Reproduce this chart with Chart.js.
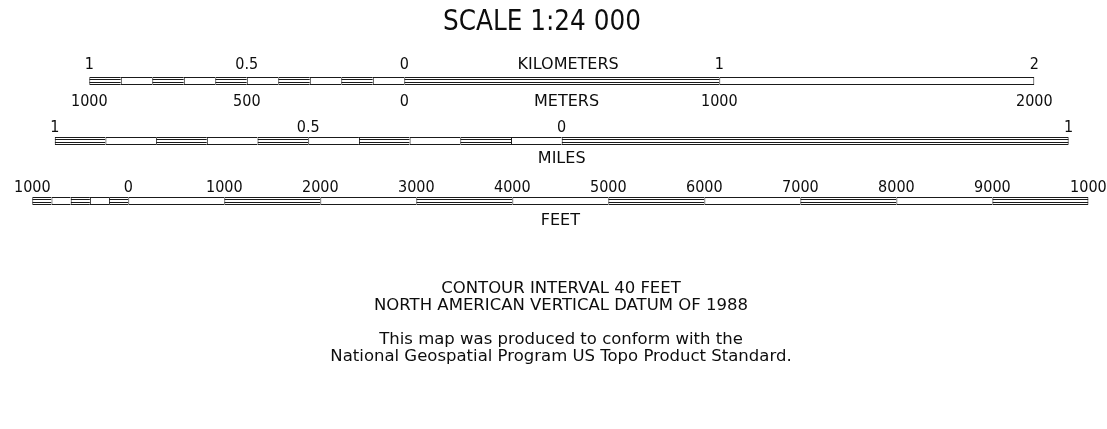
<!DOCTYPE html>
<html>
<head>
<meta charset="utf-8">
<script src="https://cdn.jsdelivr.net/npm/chart.js@4/dist/chart.umd.min.js"></script>
<style>
  html, body { margin: 0; padding: 0; background: #fff; }
  #wrap { width: 1107px; height: 429px; position: relative; }
</style>
</head>
<body>
<div id="wrap"><canvas id="scaleChart"></canvas></div>
<script>
// segment boundaries of each bar, in the bar's own unit (left of zero is negative)
const kmBreaks = [-1, -0.9, -0.8, -0.7, -0.6, -0.5, -0.4, -0.3, -0.2, -0.1, 0, 1, 2];
const mileBreaks = [-1, -0.9, -0.8, -0.7, -0.6, -0.5, -0.4, -0.3, -0.2, -0.1, 0, 1];
const feetBreaks = [-1000, -800, -600, -400, -200, 0, 1000, 2000, 3000, 4000, 5000, 6000, 7000, 8000, 9000, 10000];

// tick labels
const kmTicks = [-1, -0.5, 0, 1, 2];
const kmTickLabels = ['1', '0.5', '0', '1', '2'];
const meterTickLabels = ['1000', '500', '0', '1000', '2000'];
const mileTicks = [-1, -0.5, 0, 1];
const mileTickLabels = ['1', '0.5', '0', '1'];
const feetTicks = [-1000, 0, 1000, 2000, 3000, 4000, 5000, 6000, 7000, 8000, 9000, 10000];
const feetTickLabels = ['1000', '0', '1000', '2000', '3000', '4000', '5000', '6000', '7000', '8000', '9000', '1000'];

const titleText = 'SCALE 1:24 000';
const footerLines = [
  'CONTOUR INTERVAL 40 FEET',
  'NORTH AMERICAN VERTICAL DATUM OF 1988',
  '',
  'This map was produced to conform with the',
  'National Geospatial Program US Topo Product Standard.'
];

// layout
const W = 1107, H = 429;
const kmZeroPx = 404.3;
const pxPerKm = 315;
const pxPerMile = pxPerKm * 1.609344;
const pxPerFoot = pxPerKm * 0.0003048;
const mileZeroPx = 561.7;
const feetZeroPx = 128.3;
const rows = { km: 81, mile: 141, feet: 201 };
const LINE = '#1a1a1a';
const TEXT = '#0d0d0d';
const NUM_FONT = '"DejaVu Sans Condensed", "DejaVu Sans", sans-serif';
const WORD_FONT = '"DejaVu Sans", sans-serif';

function segments(breaks, row, evenOnly) {
  const out = [];
  for (let i = 0; i < breaks.length - 1; i++) {
    if (evenOnly && i % 2) continue;
    out.push({ x: [breaks[i], breaks[i + 1]], y: row });
  }
  return out;
}

function barRow(axisId, breaks, row) {
  const last = breaks.length - 2;
  const outer = {
    data: segments(breaks, row, false),
    xAxisID: axisId,
    yAxisID: 'y',
    barThickness: 8,
    backgroundColor: '#fff',
    borderColor: LINE,
    borderWidth: (ctx) => ({ top: 1, bottom: 1, left: 1, right: ctx.dataIndex === last ? 1 : 0 }),
    borderSkipped: false,
    inflateAmount: 0,
    grouped: false,
    order: 2
  };
  // the thin double line inside every other segment
  const inner = {
    data: segments(breaks, row, true),
    xAxisID: axisId,
    yAxisID: 'y',
    barThickness: 4,
    backgroundColor: 'rgba(0,0,0,0)',
    borderColor: LINE,
    borderWidth: { top: 1, bottom: 1, left: 0, right: 0 },
    borderSkipped: false,
    inflateAmount: 0,
    grouped: false,
    order: 1
  };
  return [outer, inner];
}

function axis(zeroPx, pxPerUnit) {
  return {
    type: 'linear',
    axis: 'x',
    display: false,
    offset: false,
    min: -zeroPx / pxPerUnit,
    max: (W - zeroPx) / pxPerUnit
  };
}

const tickRows = [
  { axis: 'xKm', values: kmTicks, labels: kmTickLabels, baseline: 69 },
  { axis: 'xKm', values: kmTicks, labels: meterTickLabels, baseline: 106 },
  { axis: 'xMi', values: mileTicks, labels: mileTickLabels, baseline: 132 },
  { axis: 'xFt', values: feetTicks, labels: feetTickLabels, baseline: 192 }
];
const unitRows = [
  { axis: 'xKm', value: 0.52, text: 'KILOMETERS', baseline: 69 },
  { axis: 'xKm', value: 0.515, text: 'METERS', baseline: 106 },
  { axis: 'xMi', value: 0, text: 'MILES', baseline: 163 },
  { axis: 'xFt', value: 4500, text: 'FEET', baseline: 225 }
];

const textPlugin = {
  id: 'scaleText',
  afterDraw(chart) {
    const ctx = chart.ctx;
    ctx.save();
    ctx.fillStyle = TEXT;
    ctx.textAlign = 'center';
    ctx.textBaseline = 'alphabetic';
    ctx.font = '27.5px ' + NUM_FONT;
    ctx.fillText(titleText, 542, 30);

    ctx.font = '16px ' + NUM_FONT;
    tickRows.forEach((r) => {
      const s = chart.scales[r.axis];
      r.values.forEach((v, i) => ctx.fillText(r.labels[i], s.getPixelForValue(v), r.baseline));
    });
    ctx.font = '16px ' + WORD_FONT;
    unitRows.forEach((u) => {
      ctx.fillText(u.text, chart.scales[u.axis].getPixelForValue(u.value), u.baseline);
    });

    ctx.font = '16.5px ' + WORD_FONT;
    let y = 293;
    footerLines.forEach((line) => {
      if (line) ctx.fillText(line, 561, y);
      y += 17;
    });
    ctx.restore();
  }
};

new Chart(document.getElementById('scaleChart'), {
  type: 'bar',
  data: {
    datasets: [
      ...barRow('xKm', kmBreaks, rows.km),
      ...barRow('xMi', mileBreaks, rows.mile),
      ...barRow('xFt', feetBreaks, rows.feet)
    ]
  },
  options: {
    indexAxis: 'y',
    responsive: true,
    maintainAspectRatio: false,
    animation: false,
    events: [],
    layout: { padding: 0 },
    scales: {
      xKm: axis(kmZeroPx, pxPerKm),
      xMi: axis(mileZeroPx, pxPerMile),
      xFt: axis(feetZeroPx, pxPerFoot),
      y: { type: 'linear', display: false, offset: false, min: 0, max: H, reverse: true }
    },
    plugins: {
      legend: { display: false },
      tooltip: { enabled: false },
      title: { display: false }
    }
  },
  plugins: [textPlugin]
});
</script>
</body>
</html>
